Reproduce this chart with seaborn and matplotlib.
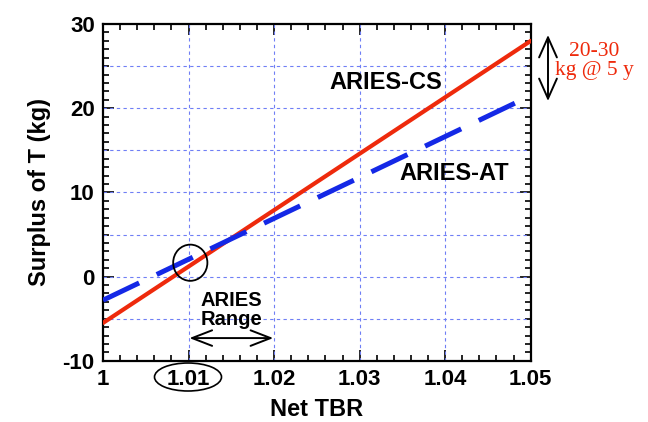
import matplotlib
matplotlib.use("Agg")
import matplotlib.pyplot as plt
from matplotlib.patches import Ellipse, FancyArrowPatch
from matplotlib.ticker import MultipleLocator
import seaborn as sns
import pandas as pd

net_tbr = [1.00, 1.05]
aries_cs = [-5.5, 28.0]
aries_at = [-2.8, 21.5]
x_ticks = [1.0, 1.01, 1.02, 1.03, 1.04, 1.05]
x_tick_labels = ["1", "1.01", "1.02", "1.03", "1.04", "1.05"]
y_ticks = [-10, 0, 10, 20, 30]
y_tick_labels = ["-10", "0", "10", "20", "30"]

sns.set_style("white")
plt.rcParams['font.family'] = ['Liberation Sans', 'DejaVu Sans']
plt.rcParams['text.color'] = 'black'
plt.rcParams['axes.labelcolor'] = 'black'
plt.rcParams['xtick.color'] = 'black'
plt.rcParams['ytick.color'] = 'black'

df = pd.DataFrame({"tbr": net_tbr * 2,
                   "surplus": aries_cs + aries_at,
                   "design": ["ARIES-CS"] * 2 + ["ARIES-AT"] * 2})

fig = plt.figure(figsize=(6.48, 4.22), dpi=100)
ax = fig.add_axes([0.159, 0.145, 0.66, 0.798])

sns.lineplot(data=df[df.design == "ARIES-CS"], x="tbr", y="surplus", ax=ax,
             color="#ee2a0c", linewidth=3.0, zorder=4)
sns.lineplot(data=df[df.design == "ARIES-AT"], x="tbr", y="surplus", ax=ax,
             color="#1428e6", linewidth=3.6, zorder=4)
ax.lines[1].set_dashes([8.0, 3.9])
ax.lines[1].set_dash_capstyle("butt")

ax.set_xlim(1.0, 1.05)
ax.set_ylim(-10, 30)
ax.set_xticks(x_ticks)
ax.set_xticklabels(x_tick_labels)
ax.set_yticks(y_ticks)
ax.set_yticklabels(y_tick_labels)
ax.xaxis.set_minor_locator(MultipleLocator(0.002))
ax.yaxis.set_minor_locator(MultipleLocator(1))

for gx in [1.01, 1.02, 1.03, 1.04]:
    ax.axvline(gx, color="#6f7ff5", lw=0.8, ls=(0, (3, 3)), zorder=1)
for gy in [-5, 0, 5, 10, 15, 20, 25]:
    ax.axhline(gy, color="#6f7ff5", lw=0.8, ls=(0, (3, 3)), zorder=1)

ax.tick_params(which="both", direction="in", top=True, right=True,
               bottom=True, left=True, width=1.2, color="black")
ax.tick_params(which="major", length=8, labelsize=16, pad=6)
ax.tick_params(which="minor", length=4)
for lab in ax.get_xticklabels() + ax.get_yticklabels():
    lab.set_fontweight("bold")
for s in ax.spines.values():
    s.set_color("black")
    s.set_linewidth(1.6)

ax.set_xlabel("Net TBR", fontsize=17, fontweight="bold", labelpad=6)
ax.set_ylabel("Surplus of T (kg)", fontsize=17, fontweight="bold", labelpad=8)

ax.text(1.0265, 23.1, "ARIES-CS", fontsize=17, fontweight="bold", ha="left", va="center")
ax.text(1.0347, 12.3, "ARIES-AT", fontsize=17, fontweight="bold", ha="left", va="center")
ax.text(1.015, -3.95, "ARIES\nRange", fontsize=14.5, fontweight="bold", ha="center",
        va="center", linespacing=1.05)
ax.annotate("", xy=(1.0101, -7.3), xytext=(1.0199, -7.3),
            arrowprops=dict(arrowstyle="<->,head_length=0.9,head_width=0.35",
                            color="black", lw=1.4, mutation_scale=16,
                            shrinkA=0, shrinkB=0))
ax.add_patch(Ellipse((1.0102, 1.65), 0.004, 4.3, fill=False, ec="black", lw=1.3,
                     zorder=5))

# ellipse around the 1.01 tick label (figure coords)
fig.patches.append(Ellipse((188 / 648, 1 - 377 / 422), 67 / 648, 28 / 422,
                           transform=fig.transFigure, fill=False, ec="black",
                           lw=1.2, figure=fig))
# right double arrow
fig.patches.append(FancyArrowPatch(
    (548 / 648, 1 - 101 / 422), (548 / 648, 1 - 35 / 422),
    transform=fig.transFigure,
    arrowstyle="<->,head_length=0.9,head_width=0.4", mutation_scale=16,
    color="black", lw=1.4, figure=fig, shrinkA=0, shrinkB=0))
fig.text(594 / 648, 1 - 61 / 422, "20-30\nkg @ 5 y", color="#ee2a0c",
         fontsize=15.5, family=["Liberation Serif", "DejaVu Serif"],
         ha="center", va="center", linespacing=0.95)

fig.savefig("out.png", dpi=100)
